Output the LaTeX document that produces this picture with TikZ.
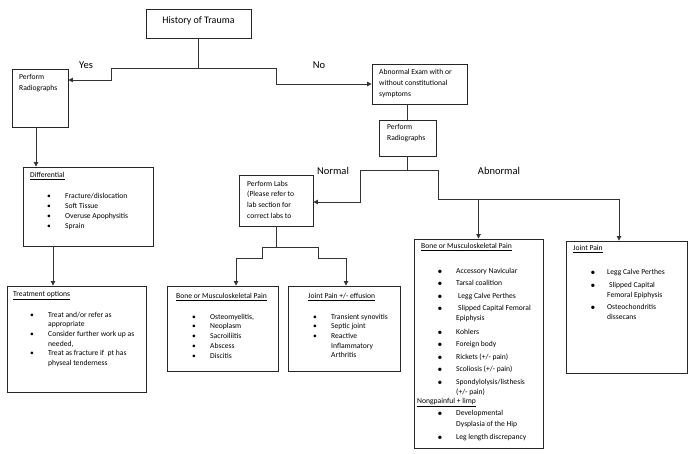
\documentclass[tikz,border=0pt]{standalone}
\usepackage{fontspec}
\setmainfont{Carlito}
\usetikzlibrary{arrows.meta}
\tikzset{
 box/.style={draw=black!85, line width=0.9pt, inner sep=0pt},
 conn/.style={draw=black!80, line width=0.85pt},
 arr/.style={conn, -{Triangle[width=4.5pt,length=4.5pt]}},
 txt/.style={anchor=west, inner sep=0pt, font=\fontsize{7.6}{9}\selectfont, text height=5.2pt, text depth=1.5pt},
 bul/.style={anchor=center, inner sep=0pt, font=\fontsize{7.5}{9}\selectfont},
 bigbul/.style={anchor=center, inner sep=0pt, font=\fontsize{9.5}{9}\selectfont},
 lab/.style={font=\fontsize{10.5}{12}\selectfont, inner sep=0pt},
}
\newcommand\tline[4]{\node[txt] (#1) at (#2,#3) {#4};}
\newcommand\bline[5]{\node[bul] (#1b) at (#2,#4) {\textbullet}; \node[txt] (#1) at (#3,#4) {#5};}
\newcommand\Bline[5]{\node[bigbul] (#1b) at (#2,#4) {\textbullet}; \node[txt] (#1) at (#3,#4) {#5};}
\begin{document}
\begin{tikzpicture}[x=1pt,y=-1pt]
\useasboundingbox[fill=white] (0,0) rectangle (700,454);
% boxes
\node[box, minimum width=105pt, minimum height=29pt] (ht) at (198.5,23.5) {};
\node[box, minimum width=56pt, minimum height=58pt] (pr1) at (40,98) {};
\node[box, minimum width=95pt, minimum height=40pt] (ab) at (419.5,84) {};
\node[box, minimum width=57pt, minimum height=36pt] (pr2) at (407.5,138) {};
\node[box, minimum width=130pt, minimum height=79pt] (diff) at (88,206.5) {};
\node[box, minimum width=139pt, minimum height=106pt] (treat) at (76.5,339) {};
\node[box, minimum width=74pt, minimum height=51pt] (labs) at (276,200.5) {};
\node[box, minimum width=111pt, minimum height=85pt] (bm1) at (222.5,328.5) {};
\node[box, minimum width=112pt, minimum height=85pt] (jpe) at (344,328.5) {};
\node[box, minimum width=129pt, minimum height=209pt] (bm2) at (478.5,343.5) {};
\node[box, minimum width=121pt, minimum height=132pt] (jp) at (626.5,307) {};
% texts
\node[font=\fontsize{10}{12}\selectfont, inner sep=0pt] (htt) at (198.5,20.5) {History of Trauma};
\tline{p1a}{19}{78}{Perform}
\tline{p1b}{19}{89}{Radiographs}
\tline{aba}{379}{73}{Abnormal Exam with or}
\tline{abb}{379}{84}{without constitutional}
\tline{abc}{379}{95}{symptoms}
\tline{p2a}{387}{128}{Perform}
\tline{p2b}{387}{139}{Radiographs}
\tline{la}{247}{185}{Perform Labs}
\tline{lb}{247}{195}{(Please refer to}
\tline{lc}{247}{206}{lab section for}
\tline{ld}{247}{217}{correct labs to}
% differential
\tline{dt}{30}{176}{\underline{Differential}}
\bline{d1}{49}{65}{197}{Fracture/dislocation}
\bline{d2}{49}{65}{207}{Soft Tissue}
\bline{d3}{49}{65}{217}{Overuse Apophysitis}
\bline{d4}{49}{65}{227}{Sprain}
% treatment
\tline{tt}{13}{295}{\underline{Treatment options}}
\bline{t1}{32}{48}{316}{Treat and/or refer as}
\tline{t1c}{48}{325}{appropriate}
\bline{t2}{32}{48}{335}{Consider further work up as}
\tline{t2c}{48}{345}{needed,}
\bline{t3}{32}{48}{354}{Treat as fracture if\ \ pt has}
\tline{t3c}{48}{364}{physeal tenderness}
% bone msk 1
\tline{b1t}{176}{297}{\underline{Bone or Musculoskeletal Pain}}
\bline{b11}{194}{210}{318}{Osteomyelitis,}
\bline{b12}{194}{210}{327}{Neoplasm}
\bline{b13}{194}{210}{337}{Sacroiliitis}
\bline{b14}{194}{210}{347}{Abscess}
\bline{b15}{194}{210}{357}{Discitis}
% joint pain effusion
\tline{jet}{308}{297}{\underline{Joint Pain +/- effusion}}
\bline{je1}{315}{331}{318}{Transient synovitis}
\bline{je2}{315}{331}{327}{Septic joint}
\bline{je3}{315}{331}{337}{Reactive}
\tline{je3b}{331}{347}{Inflammatory}
\tline{je3c}{331}{356}{Arthritis}
% bone msk 2
\tline{b2t}{421}{247}{\underline{Bone or Musculoskeletal Pain}}
\Bline{b21}{440}{456}{272}{Accessory Navicular}
\Bline{b22}{440}{456}{284}{Tarsal coalition}
\Bline{b23}{440}{458}{297}{Legg Calve Perthes}
\Bline{b24}{440}{458}{309}{Slipped Capital Femoral}
\tline{b24c}{456}{319}{Epiphysis}
\Bline{b25}{440}{456}{333}{Kohlers}
\Bline{b26}{440}{456}{345}{Foreign body}
\Bline{b27}{440}{456}{358}{Rickets (+/- pain)}
\Bline{b28}{440}{456}{370}{Scoliosis (+/- pain)}
\Bline{b29}{440}{456}{383}{Spondylolysis/listhesis}
\tline{b29c}{456}{393}{(+/- pain)}
\tline{b2n}{417}{402}{\underline{Nongpainful + limp}}
\Bline{b30}{440}{456}{414}{Developmental}
\tline{b30c}{456}{425}{Dysplasia of the Hip}
\Bline{b31}{440}{456}{438}{Leg length discrepancy}
% joint pain
\tline{jpt}{573}{249}{\underline{Joint Pain}}
\Bline{jp1}{593}{607}{273}{Legg Calve Perthes}
\Bline{jp2}{593}{609}{286}{Slipped Capital}
\tline{jp2c}{607}{296}{Femoral Epiphysis}
\Bline{jp3}{593}{607}{308}{Osteochondritis}
\tline{jp3c}{607}{318}{dissecans}
% labels
\node[lab] (yes) at (86,65) {Yes};
\node[lab] (no) at (319,65) {No};
\node[lab] (nor) at (333,171) {Normal};
\node[lab] (abn) at (499,171) {Abnormal};
% connectors
\coordinate (jt) at (198.5,68);
\coordinate (yesb) at (111,80);
\coordinate (nob) at (276,84);
\draw[conn] (ht.south) -- (jt);
\draw[arr] (jt) -| (yesb) -- (yesb -| pr1.east);
\draw[arr] (jt) -| (nob) -- (ab.west);
\draw[conn] (ab.south -| pr2.north) -- (pr2.north);
\coordinate (sp) at (407.5,170);
\coordinate (nl) at (360,202);
\coordinate (abr) at (438,199);
\draw[conn] (pr2.south) -- (sp);
\draw[arr] (sp) -| (nl) -- (nl -| labs.east);
\draw[arr] (sp) -| (abr) -| ([xshift=-7.5pt]jp.north);
\draw[arr] (abr -| bm2.north) -- (bm2.north);
\coordinate (lj) at (276,247);
\coordinate (lL) at (262,258);
\coordinate (lR) at (318,258);
\draw[conn] (labs.south) -- (lj);
\draw[arr] (lj) -| (lL) -| ([xshift=13.5pt]bm1.north);
\draw[arr] (lj) -| (lR) -| ([xshift=2pt]jpe.north);
\draw[arr] ([xshift=-4pt]pr1.south) -- ([xshift=-4pt]pr1.south |- diff.north);
\draw[arr] ([xshift=-35pt]diff.south) -- ([xshift=-35pt]diff.south |- treat.north);
\end{tikzpicture}
\end{document}
